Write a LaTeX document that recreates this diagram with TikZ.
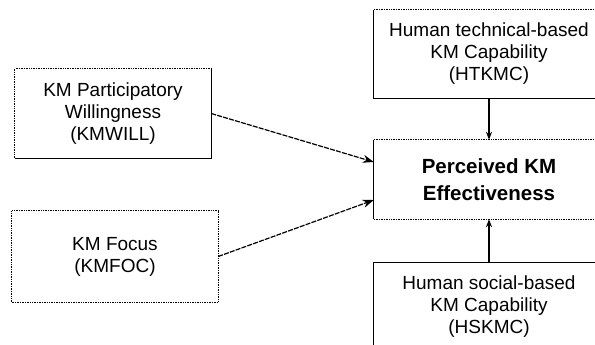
\documentclass[tikz,border=0pt]{standalone}
\usepackage{fontspec}
\setmainfont{Liberation Sans}
\usetikzlibrary{arrows.meta}
\tikzset{
  box/.style={draw=none, align=center, inner sep=0pt, font=\fontsize{19}{22}\selectfont},
  boldbox/.style={draw=none, align=center, inner sep=0pt, font=\fontsize{20.5}{27}\selectfont\bfseries},
  solidedge/.style={line width=1.3pt, black},
  dotedge/.style={line width=1.2pt, black, dash pattern=on 1pt off 0.7pt},
  dasharrow/.style={line width=1.2pt, black, dash pattern=on 5pt off 1.2pt, -{Stealth[length=11pt,width=8pt]}},
  vertarrow/.style={line width=1.3pt, black, -{Stealth[length=8pt,width=6pt]}}
}
\begin{document}
\begin{tikzpicture}[x=1pt,y=-1pt]
\useasboundingbox (0,0) rectangle (595,345);
\fill[white] (0,0) rectangle (595,345);
\clip (0,0) rectangle (595,345);
% nodes (sized to the boxes)
\node[box, minimum width=196pt, minimum height=89pt] (will) at (113,113.5) {KM Participatory\\Willingness\\(KMWILL)};
\node[box, minimum width=206pt, minimum height=91pt] (foc) at (115,256.5) {KM Focus\\(KMFOC)};
\node[box, minimum width=230pt, minimum height=88pt] (htk) at (489,54) {Human technical-based\\KM Capability\\(HTKMC)};
\node[boldbox, minimum width=230pt, minimum height=79pt] (pke) at (489,179.5) {Perceived KM\\Effectiveness};
\node[box, minimum width=230pt, minimum height=88pt] (hsk) at (489,307) {Human social-based\\KM Capability\\(HSKMC)};
% box outlines
\draw[dotedge] (will.south west) -- (will.north west) -- (will.north east);
\draw[solidedge] (will.north east) -- (will.south east) -- (will.south west);
\draw[dotedge] (foc.south west) rectangle (foc.north east);
\draw[dotedge] (htk.north west) -- (htk.north east);
\draw[solidedge] (htk.north west) -- (htk.south west) -- (htk.south east);
\draw[dotedge] (pke.north west) -- (pke.north east);
\draw[dotedge] (pke.south west) -- (pke.south east);
\draw[solidedge] (pke.north west) -- (pke.south west);
\draw[solidedge] (hsk.south west) -- (hsk.north west) -- (hsk.north east);
% connectors
\draw[dasharrow] (will.east) -- ([yshift=17.5pt]pke.west);
\draw[dasharrow] (foc.east) -- ([yshift=-20.5pt]pke.west);
\draw[vertarrow] (htk.south) -- (pke.north);
\draw[vertarrow] (hsk.north) -- (pke.south);
\end{tikzpicture}
\end{document}
